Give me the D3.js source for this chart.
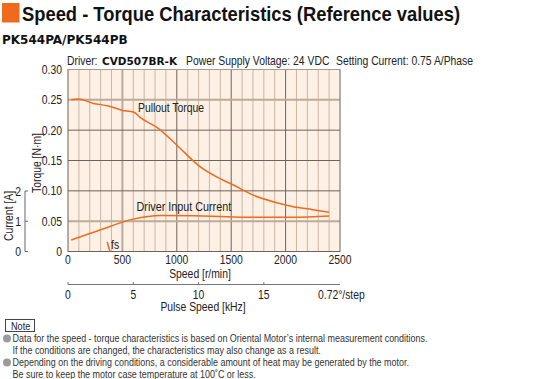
<!DOCTYPE html>
<html><head><meta charset="utf-8">
<script src="https://cdn.jsdelivr.net/npm/d3@7"></script>
<style>
body{margin:0;background:#fff;}
svg text{font-family:"Liberation Sans",Arial,sans-serif;fill:#222;}
</style></head><body>
<script>
// ---- data ----
const pulloutSpeed  = [30, 95, 233, 371, 493, 607, 662, 830, 999, 1213, 1366, 1520, 1703, 1887, 2071, 2250, 2400];
const pulloutTorque = [0.250, 0.2514, 0.244, 0.240, 0.233, 0.2294, 0.221, 0.203, 0.1755, 0.140, 0.123, 0.1096, 0.093, 0.082, 0.0738, 0.069, 0.0646];
const currentSpeed  = [30, 300, 600, 846, 1152, 1458, 1765, 2070, 2400];
const currentAmp    = [0.38, 0.72, 1.07, 1.19, 1.18, 1.15, 1.13, 1.13, 1.17];
const fsSpeed  = [360, 385];
const fsTorque = [0.016, 0.0];
const speedTicks  = [0, 500, 1000, 1500, 2000, 2500];
const torqueTicks = [0, 0.05, 0.10, 0.15, 0.20, 0.25, 0.30];
const currentTicks = [0, 1, 2];
const pulseTicks = [0, 5, 10, 15];
const notes = [
  ["Data for the speed - torque characteristics is based on Oriental Motor\u2019s internal measurement conditions.",
   "If the conditions are changed, the characteristics may also change as a result."],
  ["Depending on the driving conditions, a considerable amount of heat may be generated by the motor.",
   "Be sure to keep the motor case temperature at 100\u02daC or less."]
];

const W = 536, H = 379;
const orange = "#f06a1e";
const SX = 0.83; // horizontal squeeze to imitate a narrow face
const svg = d3.select("body").append("svg").attr("width", W).attr("height", H);

function nt(parent, x, y, str, size, anchor, rot) {
  return parent.append("text")
    .attr("transform", `translate(${x},${y})${rot ? " rotate(-90)" : ""} scale(${SX},1)`)
    .attr("text-anchor", anchor || "start").style("font-size", size + "px").text(str);
}

// title
svg.append("rect").attr("x", 2).attr("y", 3).attr("width", 17.5).attr("height", 19.5).attr("fill", orange);
svg.append("text").attr("x", 22).attr("y", 20.5)
  .attr("textLength", 438).attr("lengthAdjust", "spacingAndGlyphs")
  .style("font-size", "21px").style("font-weight", "bold").style("fill", "#111")
  .text("Speed - Torque Characteristics (Reference values)");
svg.append("text").attr("x", 2).attr("y", 44)
  .style("font-family", "'DejaVu Sans',sans-serif").style("font-size", "12px").style("font-weight", "bold").style("fill", "#111")
  .text("PK544PA/PK544PB");

// driver line
nt(svg, 67, 65, "Driver:", 12.5);
svg.append("text").attr("x", 102).attr("y", 65)
  .style("font-family", "'DejaVu Sans',sans-serif").style("font-weight", "bold").style("font-size", "10.5px").style("fill", "#111")
  .text("CVD507BR-K");
nt(svg, 186, 65, "Power Supply Voltage: 24 VDC", 12.5);
nt(svg, 336, 65, "Setting Current: 0.75 A/Phase", 12.5);

// scales
const x = d3.scaleLinear().domain([0, 2500]).range([68, 340]);
const y = d3.scaleLinear().domain([0, 0.30]).range([251.5, 69.5]);
const yc = d3.scaleLinear().domain([0, 2]).range([251.5, 191]);
const xp = d3.scaleLinear().domain([0, 2500 / 120]).range([68, 340]);

// plot background
svg.append("rect").attr("x", x(0)).attr("y", y(0.30)).attr("width", x(2500) - x(0)).attr("height", y(0) - y(0.30)).attr("fill", "#fdf0e4");

const grid = svg.append("g");
d3.range(100, 2500, 100).filter(v => v % 500 !== 0).forEach(v => {
  grid.append("line").attr("x1", x(v)).attr("x2", x(v)).attr("y1", y(0)).attr("y2", y(0.30))
    .attr("stroke", "#c9b6a6").attr("stroke-width", 1);
});
[500, 1000, 1500, 2000].forEach(v => {
  const tan = v === 500;
  grid.append("line").attr("x1", x(v)).attr("x2", x(v)).attr("y1", y(0)).attr("y2", y(0.30))
    .attr("stroke", tan ? "#bcaa9a" : "#6f625a").attr("stroke-width", tan ? 2 : 1);
});
[0.05, 0.10, 0.15, 0.20, 0.25].forEach(v => {
  const tan = (Math.round(v * 100) === 5 || Math.round(v * 100) === 25);
  grid.append("line").attr("x1", x(0)).attr("x2", x(2500)).attr("y1", y(v)).attr("y2", y(v))
    .attr("stroke", tan ? "#bcaa9a" : "#6f625a").attr("stroke-width", tan ? 2 : 1);
});
svg.append("rect").attr("x", x(0)).attr("y", y(0.30)).attr("width", x(2500) - x(0)).attr("height", y(0) - y(0.30))
  .attr("fill", "none").attr("stroke", "#6f625a").attr("stroke-width", 1);
svg.append("line").attr("x1", x(0)).attr("x2", x(2500)).attr("y1", y(0.30)).attr("y2", y(0.30)).attr("stroke", "#a89a90");

// curves
const lt = d3.line().x((d, i) => x(pulloutSpeed[i])).y(d => y(d)).curve(d3.curveMonotoneX);
svg.append("path").attr("d", lt(pulloutTorque)).attr("fill", "none").attr("stroke", orange).attr("stroke-width", 1.5);
const lc = d3.line().x((d, i) => x(currentSpeed[i])).y(d => yc(d)).curve(d3.curveMonotoneX);
svg.append("path").attr("d", lc(currentAmp)).attr("fill", "none").attr("stroke", orange).attr("stroke-width", 1.5);
const lf = d3.line().x((d, i) => x(fsSpeed[i])).y(d => y(d));
svg.append("path").attr("d", lf(fsTorque)).attr("fill", "none").attr("stroke", orange).attr("stroke-width", 1.5);

// curve labels
nt(svg, 138, 112, "Pullout Torque", 12.5);
nt(svg, 136.5, 211, "Driver Input Current", 13);
nt(svg, 111, 249, "fs", 12.5);

// x tick labels
speedTicks.forEach(d => nt(svg, x(d), 264, String(d), 12.5, "middle"));
nt(svg, 200, 278, "Speed [r/min]", 12.5, "middle");

// torque tick labels
torqueTicks.forEach(d => nt(svg, 62, y(d) + 4.5, d === 0 ? "0" : d.toFixed(2), 12.5, "end"));
nt(svg, 41, 163, "Torque [N\u00b7m]", 12.5, "middle", true);

// current axis
const ca = svg.append("g");
ca.append("line").attr("x1", 25).attr("x2", 25).attr("y1", yc(2)).attr("y2", yc(0)).attr("stroke", "#666");
ca.selectAll("line.t").data(currentTicks).join("line").attr("class", "t")
  .attr("x1", 25).attr("x2", 28).attr("y1", d => yc(d)).attr("y2", d => yc(d)).attr("stroke", "#666");
currentTicks.forEach(d => nt(ca, 21, yc(d) + 4.5, String(d), 12.5, "end"));
nt(svg, 13, 216, "Current [A]", 12.5, "middle", true);

// pulse speed axis
const pa = svg.append("g");
pa.append("line").attr("x1", xp(0)).attr("x2", x(2500)).attr("y1", 284.5).attr("y2", 284.5).attr("stroke", "#777");
pa.selectAll("line.t").data(pulseTicks).join("line").attr("class", "t")
  .attr("x1", d => xp(d)).attr("x2", d => xp(d)).attr("y1", 282).attr("y2", 284.5).attr("stroke", "#777");
pulseTicks.forEach(d => nt(pa, xp(d), 299, String(d), 12.5, "middle"));
nt(svg, 318, 299, "0.72\u00b0/step", 12.5);
nt(svg, 203, 311, "Pulse Speed [kHz]", 12.5, "middle");

// note
svg.append("rect").attr("x", 5.5).attr("y", 319.5).attr("width", 29).attr("height", 12).attr("fill", "none").attr("stroke", "#444");
nt(svg, 11, 329.5, "Note", 11);
notes.forEach((pair, k) => {
  const y0 = 342 + k * 24;
  svg.append("circle").attr("cx", 7).attr("cy", y0 - 3.5).attr("r", 4).attr("fill", "#9a9a9a");
  pair.forEach((t, j) => nt(svg, 12.5, y0 + j * 12, t, 10.8).style("fill", "#333"));
});
</script>
</body></html>
